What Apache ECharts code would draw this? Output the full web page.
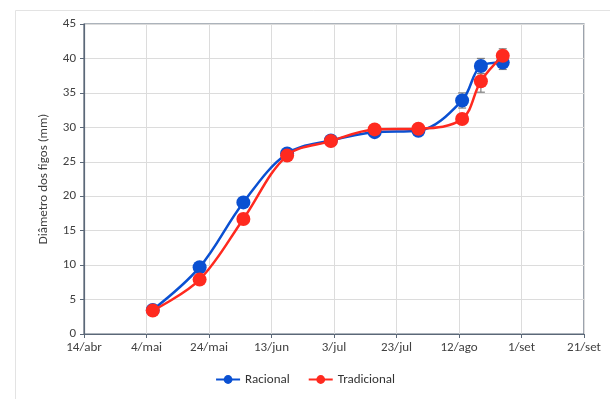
<!DOCTYPE html>
<html>
<head>
<meta charset="utf-8">
<script src="https://cdn.jsdelivr.net/npm/echarts@6/dist/echarts.min.js"></script>
<style>
  html, body { margin: 0; padding: 0; background: #fff; }
  #chart { width: 610px; height: 399px; }
</style>
</head>
<body>
<div id="chart"></div>
<script>
// Sampling dates and mean fruit diameter (mm) with their error margins
const startDate = '2013-04-14';
const endDate = '2013-09-21';
const sampleDates = ['2013-05-06', '2013-05-21', '2013-06-04', '2013-06-18', '2013-07-02',
                     '2013-07-16', '2013-07-30', '2013-08-13', '2013-08-19', '2013-08-26'];
const racional     = [3.5, 9.7, 19.1, 26.2, 28.1, 29.3, 29.5, 33.9, 38.9, 39.4];
const racionalErr  = [0.4, 0.6, 0.7, 0.5, 0.5, 0.6, 0.5, 1.1, 1.1, 1.0];
const tradicional  = [3.4, 7.9, 16.7, 25.9, 28.0, 29.7, 29.8, 31.2, 36.7, 40.4];
const tradicionalErr = [0.3, 0.5, 0.7, 0.6, 0.5, 0.5, 0.4, 0.6, 1.6, 1.0];
const seriesNames = ['Racional', 'Tradicional'];
const monthNames = ['jan', 'fev', 'mar', 'abr', 'mai', 'jun', 'jul', 'ago', 'set', 'out', 'nov', 'dez'];

const DAY = 86400000;
const t0 = Date.parse(startDate);
const dayOf = d => Math.round((Date.parse(d) - t0) / DAY);
const spanDays = dayOf(endDate);
const xs = sampleDates.map(dayOf);

function fmtDay(v) {
  const d = new Date(t0 + v * DAY);
  return d.getUTCDate() + '/' + monthNames[d.getUTCMonth()];
}

const font = 'Carlito, Lato, "Open Sans", sans-serif';
const fs = 13;
const axisColor = '#5b6878';
const blue = '#0a50d2';
const red = '#ff2a1f';

function errorData(vals, errs) {
  return vals.map((v, i) => [xs[i], v - errs[i], v + errs[i]]);
}

function renderError(params, api) {
  const x = api.value(0);
  const lo = api.coord([x, api.value(1)]);
  const hi = api.coord([x, api.value(2)]);
  const cap = 4;
  const style = { stroke: '#7f7f7f', lineWidth: 1.2 };
  return {
    type: 'group',
    children: [
      { type: 'line', shape: { x1: lo[0], y1: lo[1], x2: hi[0], y2: hi[1] }, style },
      { type: 'line', shape: { x1: lo[0] - cap, y1: lo[1], x2: lo[0] + cap, y2: lo[1] }, style },
      { type: 'line', shape: { x1: hi[0] - cap, y1: hi[1], x2: hi[0] + cap, y2: hi[1] }, style }
    ]
  };
}

const chart = echarts.init(document.getElementById('chart'), null, { renderer: 'canvas' });
chart.setOption({
  animation: false,
  backgroundColor: '#fff',
  textStyle: { fontFamily: font },
  graphic: [{
    type: 'rect',
    shape: { x: 15.5, y: 10.5, width: 700, height: 500 },
    style: { fill: 'none', stroke: '#e3e3e3', lineWidth: 1 },
    silent: true
  }],
  grid: {
    left: 84, right: 26, top: 24, bottom: 65,
    show: true, borderColor: axisColor, borderWidth: 1.2, backgroundColor: 'transparent'
  },
  legend: {
    data: seriesNames,
    bottom: 8,
    left: 'center',
    itemWidth: 24,
    itemHeight: 11,
    itemGap: 18,
    textStyle: { fontFamily: font, fontSize: fs, color: '#333' }
  },
  xAxis: {
    type: 'value',
    min: 0, max: spanDays, interval: 20,
    axisLine: { show: true, lineStyle: { color: axisColor, width: 1.2 } },
    axisTick: { show: true, inside: false, length: 4, lineStyle: { color: axisColor } },
    axisLabel: { formatter: fmtDay, fontFamily: font, fontSize: fs, color: '#404040', margin: 7 },
    splitLine: { show: true, lineStyle: { color: '#dcdcdc', width: 1 } }
  },
  yAxis: {
    type: 'value',
    min: 0, max: 45, interval: 5,
    name: 'Diâmetro dos figos (mm)',
    nameLocation: 'middle',
    nameGap: 34,
    nameTextStyle: { fontFamily: font, fontSize: fs, color: '#404040' },
    axisLine: { show: true, lineStyle: { color: axisColor, width: 1.2 } },
    axisTick: { show: true, inside: false, length: 4, lineStyle: { color: axisColor } },
    axisLabel: { fontFamily: font, fontSize: fs, color: '#404040', margin: 8 },
    splitLine: { show: true, lineStyle: { color: '#dcdcdc', width: 1 } }
  },
  series: [
    {
      type: 'custom', name: 'errR', renderItem: renderError,
      data: errorData(racional, racionalErr), z: 1, silent: true
    },
    {
      type: 'custom', name: 'errT', renderItem: renderError,
      data: errorData(tradicional, tradicionalErr), z: 1, silent: true
    },
    {
      type: 'line', name: seriesNames[0],
      data: racional.map((v, i) => [xs[i], v]),
      smooth: 0.35,
      symbol: 'circle', symbolSize: 14,
      color: blue,
      lineStyle: { color: blue, width: 2.5 },
      itemStyle: { color: blue },
      z: 3
    },
    {
      type: 'line', name: seriesNames[1],
      data: tradicional.map((v, i) => [xs[i], v]),
      smooth: 0.35,
      symbol: 'circle', symbolSize: 14,
      color: red,
      lineStyle: { color: red, width: 2.5 },
      itemStyle: { color: red },
      z: 4
    }
  ]
});
</script>
</body>
</html>
